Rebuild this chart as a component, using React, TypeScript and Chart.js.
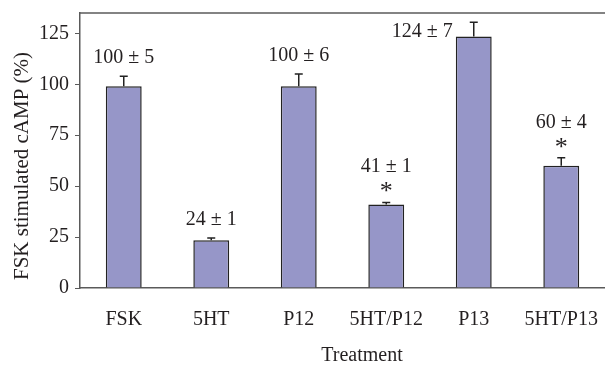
import React, { useEffect, useRef } from "react";
import { Chart, registerables } from "chart.js";

Chart.register(...registerables);

const categories = ["FSK", "5HT", "P12", "5HT/P12", "P13", "5HT/P13"];
const values = [99, 23.5, 99, 41, 123.5, 60];
const errors = [5, 1, 6, 1, 7, 4];
const valueLabels = ["100 ± 5", "24 ± 1", "100 ± 6", "41 ± 1", "124 ± 7", "60 ± 4"];
const significant = [false, false, false, true, false, true];
const yTicks = [0, 25, 50, 75, 100, 125];
const xTitle = "Treatment";
const yTitle = "FSK stimulated cAMP (%)";

const FONT = "'Liberation Serif', 'Times New Roman', serif";
const TEXT = "#231f20";
const AXIS = "#5a5a5a";

const annotatePlugin = {
  id: "annotate",
  afterDatasetsDraw(chart: any) {
    const { ctx, chartArea } = chart;
    const meta = chart.getDatasetMeta(0);
    const y = chart.scales.y;
    ctx.save();
    // top border
    ctx.strokeStyle = AXIS;
    ctx.lineWidth = 1.5;
    ctx.beginPath();
    ctx.moveTo(chartArea.left, chartArea.top);
    ctx.lineTo(chartArea.right, chartArea.top);
    ctx.stroke();

    meta.data.forEach((bar: any, i: number) => {
      const x = bar.x;
      const top = y.getPixelForValue(values[i]);
      const errTop = y.getPixelForValue(values[i] + errors[i]);
      // error bar
      ctx.strokeStyle = "#222";
      ctx.lineWidth = 1.5;
      ctx.beginPath();
      ctx.moveTo(x, top);
      ctx.lineTo(x, errTop);
      ctx.moveTo(x - 4, errTop);
      ctx.lineTo(x + 4, errTop);
      ctx.stroke();

      ctx.fillStyle = TEXT;
      ctx.font = `20px ${FONT}`;
      ctx.textBaseline = "alphabetic";
      let base = significant[i] ? errTop - 30 : errTop - 13;
      if (base - 14 < chartArea.top) {
        ctx.textAlign = "right";
        const halfW = bar.width / 2;
        ctx.fillText(valueLabels[i], x - halfW - 3, top + 1);
      } else {
        ctx.textAlign = "center";
        ctx.fillText(valueLabels[i], x, base);
      }
      if (significant[i]) {
        ctx.font = `26px ${FONT}`;
        ctx.textAlign = "center";
        const m = ctx.measureText("*");
        const bottom = errTop - 10;
        ctx.fillText("*", x, bottom - m.actualBoundingBoxDescent);
      }
    });

    // axis titles
    ctx.fillStyle = TEXT;
    ctx.font = `20px ${FONT}`;
    ctx.textAlign = "center";
    ctx.textBaseline = "alphabetic";
    ctx.fillText(xTitle, chartArea.left + 282, chart.height - 4);

    ctx.save();
    ctx.translate(28, chartArea.top + 153);
    ctx.rotate(-Math.PI / 2);
    ctx.font = `21px ${FONT}`;
    ctx.fillText(yTitle, 0, 0);
    ctx.restore();

    ctx.restore();
  },
};

export default function App() {
  const ref = useRef<HTMLCanvasElement | null>(null);
  useEffect(() => {
    document.body.style.margin = "0";
    const chart = new Chart(ref.current!, {
      type: "bar",
      data: {
        labels: categories,
        datasets: [
          {
            data: values,
            backgroundColor: "#9696c8",
            borderColor: "#222",
            borderWidth: 1.5,
            categoryPercentage: 1,
            barPercentage: 0.41,
          },
        ],
      },
      options: {
        animation: false,
        responsive: false,
        maintainAspectRatio: false,
        layout: { padding: { top: 13, right: 0, left: 0, bottom: 0 } },
        plugins: {
          legend: { display: false },
          tooltip: { enabled: false },
        },
        scales: {
          x: {
            grid: { display: false, drawTicks: false },
            border: { color: AXIS, width: 1.5 },
            ticks: { color: TEXT, font: { family: FONT, size: 20 }, padding: 20 },
            afterFit: (s: any) => {
              s.height = 77;
              s.paddingLeft = 0;
              s.paddingRight = 0;
            },
          },
          y: {
            min: 0,
            max: 135,
            grid: { display: true, drawOnChartArea: false, drawTicks: true, tickLength: 5, color: AXIS },
            border: { color: AXIS, width: 1.5 },
            ticks: { color: TEXT, font: { family: FONT, size: 20 }, padding: 6 },
            afterBuildTicks: (s: any) => {
              s.ticks = yTicks.map((v) => ({ value: v }));
            },
            afterFit: (s: any) => {
              s.width = 80;
              s.paddingTop = 0;
              s.paddingBottom = 0;
            },
          },
        },
      },
      plugins: [annotatePlugin],
    });
    return () => chart.destroy();
  }, []);
  return <canvas ref={ref} width={605} height={365} style={{ display: "block" }} />;
}
